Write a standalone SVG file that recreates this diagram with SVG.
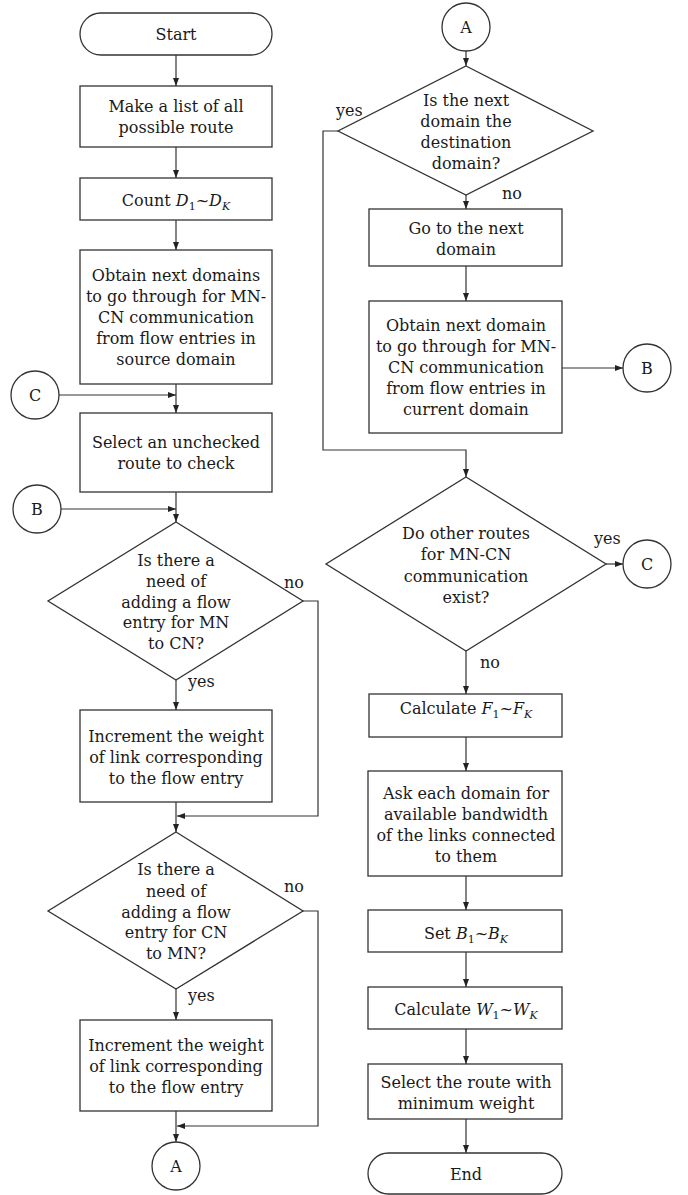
<svg xmlns="http://www.w3.org/2000/svg" width="688" height="1195" viewBox="0 0 688 1195">
<style>
.n{fill:#fff;stroke:#333;stroke-width:1.3}
.t{font-family:"DejaVu Serif","Liberation Serif",serif;font-size:16px;fill:#1a1a1a;text-anchor:middle}
.l{font-family:"DejaVu Serif","Liberation Serif",serif;font-size:16px;fill:#1a1a1a}
.c{fill:none;stroke:#333;stroke-width:1.2}
.i{font-style:italic}
.s{font-size:11px}
</style>
<defs>
<marker id="ah" viewBox="0 0 8 8" refX="8" refY="4" markerWidth="8" markerHeight="8" markerUnits="userSpaceOnUse" orient="auto">
<path d="M0,1 L8,4 L0,7 z" fill="#222"/>
</marker>
</defs>
<g id="connectors">
<path class="c" d="M176,55 V86" marker-end="url(#ah)"/>
<path class="c" d="M176,147 V178" marker-end="url(#ah)"/>
<path class="c" d="M176,220 V250" marker-end="url(#ah)"/>
<path class="c" d="M176,384 V413" marker-end="url(#ah)"/>
<path class="c" d="M59,395 H176" marker-end="url(#ah)"/>
<path class="c" d="M176,492 V522" marker-end="url(#ah)"/>
<path class="c" d="M61,509 H176" marker-end="url(#ah)"/>
<path class="c" d="M176,680 V710" marker-end="url(#ah)"/>
<path class="c" d="M303,601 H318 V816 H177" marker-end="url(#ah)"/>
<path class="c" d="M176,802 V832" marker-end="url(#ah)"/>
<path class="c" d="M303,911 H318 V1126 H177" marker-end="url(#ah)"/>
<path class="c" d="M176,989 V1020" marker-end="url(#ah)"/>
<path class="c" d="M176,1111 V1142" marker-end="url(#ah)"/>
<path class="c" d="M466,51 V66" marker-end="url(#ah)"/>
<path class="c" d="M466,195 V209" marker-end="url(#ah)"/>
<path class="c" d="M466,266 V301" marker-end="url(#ah)"/>
<path class="c" d="M562,368 H623" marker-end="url(#ah)"/>
<path class="c" d="M338,131 H323 V450 H466 V477" marker-end="url(#ah)"/>
<path class="c" d="M606,564 H623" marker-end="url(#ah)"/>
<path class="c" d="M466,651 V694" marker-end="url(#ah)"/>
<path class="c" d="M466,737 V771" marker-end="url(#ah)"/>
<path class="c" d="M466,876 V910" marker-end="url(#ah)"/>
<path class="c" d="M466,952 V987" marker-end="url(#ah)"/>
<path class="c" d="M466,1029 V1064" marker-end="url(#ah)"/>
<path class="c" d="M466,1119 V1153" marker-end="url(#ah)"/>
<text class="l" x="188" y="687">yes</text>
<text class="l" x="284" y="588">no</text>
<text class="l" x="188" y="1001">yes</text>
<text class="l" x="284" y="892">no</text>
<text class="l" x="336" y="116">yes</text>
<text class="l" x="502" y="199">no</text>
<text class="l" x="594" y="544">yes</text>
<text class="l" x="480" y="668">no</text>
</g>
<g id="start"><rect class="n" x="80" y="13" width="192" height="42" rx="21"/><text class="t" x="176" y="40">Start</text></g>
<g id="make-list"><rect class="n" x="80" y="86" width="192" height="61"/><text class="t" x="176" y="112">Make a list of all</text><text class="t" x="176" y="133">possible route</text></g>
<g id="count"><rect class="n" x="80" y="178" width="192" height="42"/><text class="t" x="176" y="206">Count <tspan class="i">D</tspan><tspan class="s" dy="4">1</tspan><tspan dy="-4">~</tspan><tspan class="i">D</tspan><tspan class="s i" dy="4">K</tspan></text></g>
<g id="obtain-source"><rect class="n" x="80" y="250" width="192" height="134"/><text class="t" x="176" y="281">Obtain next domains</text><text class="t" x="176" y="302">to go through for MN-</text><text class="t" x="176" y="323">CN communication</text><text class="t" x="176" y="344">from flow entries in</text><text class="t" x="176" y="365">source domain</text></g>
<g id="conn-c-left"><circle class="n" cx="35" cy="395" r="24"/><text class="t" x="35" y="401">C</text></g>
<g id="select-unchecked"><rect class="n" x="80" y="413" width="192" height="79"/><text class="t" x="176" y="448">Select an unchecked</text><text class="t" x="176" y="469">route to check</text></g>
<g id="conn-b-left"><circle class="n" cx="37" cy="509" r="24"/><text class="t" x="37" y="515">B</text></g>
<g id="decision-mn-cn"><polygon class="n" points="176,522 303,601 176,680 48,601"/><text class="t" x="176" y="566">Is there a</text><text class="t" x="176" y="587">need of</text><text class="t" x="176" y="608">adding a flow</text><text class="t" x="176" y="628">entry for MN</text><text class="t" x="176" y="649">to CN?</text></g>
<g id="increment-1"><rect class="n" x="80" y="710" width="192" height="92"/><text class="t" x="176" y="742">Increment the weight</text><text class="t" x="176" y="763">of link corresponding</text><text class="t" x="176" y="784">to the flow entry</text></g>
<g id="decision-cn-mn"><polygon class="n" points="176,832 303,911 176,989 48,911"/><text class="t" x="176" y="875">Is there a</text><text class="t" x="176" y="897">need of</text><text class="t" x="176" y="918">adding a flow</text><text class="t" x="176" y="938">entry for CN</text><text class="t" x="176" y="959">to MN?</text></g>
<g id="increment-2"><rect class="n" x="80" y="1020" width="192" height="91"/><text class="t" x="176" y="1051">Increment the weight</text><text class="t" x="176" y="1072">of link corresponding</text><text class="t" x="176" y="1093">to the flow entry</text></g>
<g id="conn-a-bottom"><circle class="n" cx="176" cy="1166" r="24"/><text class="t" x="176" y="1172">A</text></g>
<g id="conn-a-top"><circle class="n" cx="466" cy="27" r="24"/><text class="t" x="466" y="33">A</text></g>
<g id="decision-destination"><polygon class="n" points="466,66 593,131 466,195 338,131"/><text class="t" x="466" y="106">Is the next</text><text class="t" x="466" y="127">domain the</text><text class="t" x="466" y="148">destination</text><text class="t" x="466" y="169">domain?</text></g>
<g id="go-next"><rect class="n" x="369" y="209" width="193" height="57"/><text class="t" x="466" y="234">Go to the next</text><text class="t" x="466" y="255">domain</text></g>
<g id="obtain-current"><rect class="n" x="369" y="301" width="193" height="132"/><text class="t" x="466" y="331">Obtain next domain</text><text class="t" x="466" y="352">to go through for MN-</text><text class="t" x="466" y="373">CN communication</text><text class="t" x="466" y="394">from flow entries in</text><text class="t" x="466" y="415">current domain</text></g>
<g id="conn-b-right"><circle class="n" cx="647" cy="368" r="24"/><text class="t" x="647" y="374">B</text></g>
<g id="decision-other-routes"><polygon class="n" points="466,477 606,564 466,651 326,564"/><text class="t" x="466" y="539">Do other routes</text><text class="t" x="466" y="560">for MN-CN</text><text class="t" x="466" y="582">communication</text><text class="t" x="466" y="603">exist?</text></g>
<g id="conn-c-right"><circle class="n" cx="647" cy="564" r="24"/><text class="t" x="647" y="570">C</text></g>
<g id="calc-f"><rect class="n" x="369" y="694" width="193" height="43"/><text class="t" x="466" y="714">Calculate <tspan class="i">F</tspan><tspan class="s" dy="4">1</tspan><tspan dy="-4">~</tspan><tspan class="i">F</tspan><tspan class="s i" dy="4">K</tspan></text></g>
<g id="ask-bandwidth"><rect class="n" x="368" y="771" width="194" height="105"/><text class="t" x="466" y="799">Ask each domain for</text><text class="t" x="466" y="820">available bandwidth</text><text class="t" x="466" y="841">of the links connected</text><text class="t" x="466" y="862">to them</text></g>
<g id="set-b"><rect class="n" x="368" y="910" width="194" height="42"/><text class="t" x="466" y="939">Set <tspan class="i">B</tspan><tspan class="s" dy="4">1</tspan><tspan dy="-4">~</tspan><tspan class="i">B</tspan><tspan class="s i" dy="4">K</tspan></text></g>
<g id="calc-w"><rect class="n" x="368" y="987" width="194" height="42"/><text class="t" x="466" y="1015">Calculate <tspan class="i">W</tspan><tspan class="s" dy="4">1</tspan><tspan dy="-4">~</tspan><tspan class="i">W</tspan><tspan class="s i" dy="4">K</tspan></text></g>
<g id="select-min"><rect class="n" x="368" y="1064" width="194" height="55"/><text class="t" x="466" y="1088">Select the route with</text><text class="t" x="466" y="1109">minimum weight</text></g>
<g id="end"><rect class="n" x="368" y="1153" width="194" height="41" rx="20.5"/><text class="t" x="466" y="1180">End</text></g>
</svg>
